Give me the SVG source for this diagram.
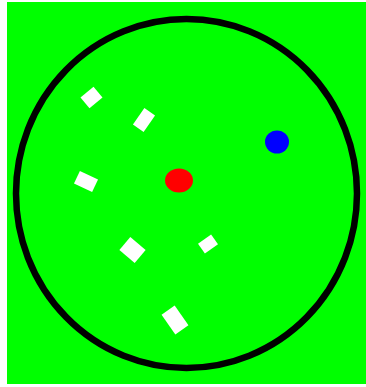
<svg xmlns="http://www.w3.org/2000/svg" width="366" height="387" viewBox="0 0 366 387">
<style>
.w{fill:#ffffff}
</style>
<rect x="0" y="0" width="366" height="387" fill="#ffffff"/>
<rect x="7" y="2" width="359" height="382" fill="#00ff00"/>
<ellipse id="ring" cx="186.5" cy="193.5" rx="170.5" ry="174.5" fill="none" stroke="#000000" stroke-width="6.5"/>
<g id="diamonds">
<rect class="w" x="-8.5" y="-7" width="17" height="14" transform="translate(91.5 97.5) rotate(-40)"/>
<rect class="w" x="-6.5" y="-10" width="13" height="20" transform="translate(144 120) rotate(35)"/>
<rect class="w" x="-10" y="-7" width="20" height="14" transform="translate(86 181.5) rotate(25)"/>
<rect class="w" x="-10" y="-8.5" width="20" height="17" transform="translate(132.5 250) rotate(40)"/>
<rect class="w" x="-8" y="-6" width="16" height="12" transform="translate(208 244) rotate(-35)"/>
<rect class="w" x="-8" y="-12" width="16" height="24" transform="translate(175 320) rotate(-35)"/>
</g>
<ellipse id="red" cx="179" cy="180.5" rx="14" ry="12" fill="#ff0000"/>
<ellipse id="blue" cx="277" cy="142" rx="12" ry="11.5" fill="#0000ff"/>
</svg>
